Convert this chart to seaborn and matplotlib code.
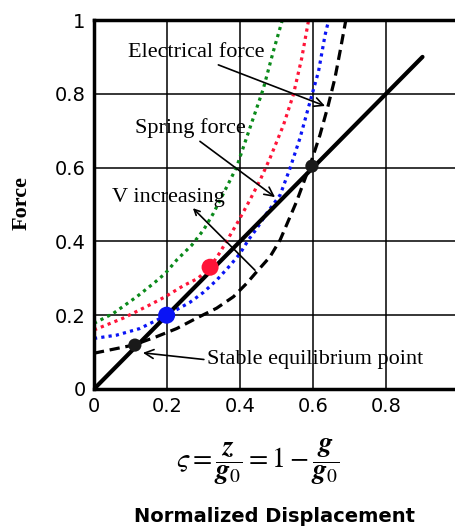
import numpy as np
import pandas as pd
import matplotlib
matplotlib.use("Agg")
import matplotlib.pyplot as plt
import seaborn as sns

# spring force (straight line through origin)
spring_x = [0.0, 0.9]
spring_y = [0.0, 0.9]

# electrical force curves (V increasing: black -> blue -> red -> green)
black_x = [0.0, 0.044, 0.108, 0.172, 0.227, 0.281, 0.336, 0.382, 0.418, 0.446, 0.482, 0.51,
           0.555, 0.592, 0.619, 0.642, 0.66, 0.674, 0.69]
black_y = [0.097, 0.106, 0.119, 0.142, 0.164, 0.192, 0.219, 0.25, 0.286, 0.318, 0.358, 0.404,
           0.508, 0.607, 0.688, 0.77, 0.842, 0.914, 1.0]

blue_x = [0.0, 0.062, 0.126, 0.199, 0.263, 0.3, 0.336, 0.373, 0.4, 0.423, 0.446, 0.473, 0.51,
          0.537, 0.564, 0.592, 0.615, 0.633, 0.643]
blue_y = [0.137, 0.146, 0.164, 0.2, 0.235, 0.262, 0.295, 0.335, 0.367, 0.404, 0.435, 0.476,
          0.526, 0.598, 0.679, 0.779, 0.86, 0.959, 1.0]

red_x = [0.0, 0.08, 0.153, 0.195, 0.245, 0.285, 0.318, 0.345, 0.373, 0.395, 0.427, 0.455,
         0.482, 0.519, 0.546, 0.569, 0.588]
red_y = [0.16, 0.192, 0.228, 0.25, 0.28, 0.3, 0.33, 0.37, 0.417, 0.454, 0.512, 0.566,
         0.625, 0.715, 0.797, 0.896, 1.0]

green_x = [0.0, 0.053, 0.117, 0.163, 0.195, 0.227, 0.268, 0.3, 0.327, 0.35, 0.373, 0.391,
           0.405, 0.427, 0.464, 0.491, 0.516]
green_y = [0.178, 0.205, 0.25, 0.286, 0.313, 0.35, 0.39, 0.431, 0.476, 0.521, 0.566, 0.602,
           0.643, 0.707, 0.814, 0.914, 1.0]

# equilibrium points
pts_x = [0.112, 0.597, 0.199, 0.318]
pts_y = [0.119, 0.604, 0.2, 0.33]
pts_kind = ["black_s", "black_u", "blue", "red"]

ticks = [0, 0.2, 0.4, 0.6, 0.8, 1]
tick_labels = ["0", "0.2", "0.4", "0.6", "0.8", "1"]

rows = []
for name, xs, ys in [("spring", spring_x, spring_y), ("black", black_x, black_y),
                     ("blue", blue_x, blue_y), ("red", red_x, red_y), ("green", green_x, green_y)]:
    for a, b in zip(xs, ys):
        rows.append({"curve": name, "x": a, "y": b})
df = pd.DataFrame(rows)
pts = pd.DataFrame({"x": pts_x, "y": pts_y, "kind": pts_kind})

sns.set_style("white")
plt.rcParams["font.family"] = ["DejaVu Sans"]
plt.rcParams["mathtext.fontset"] = "stix"
for k in ["text.color", "axes.labelcolor", "xtick.color", "ytick.color"]:
    plt.rcParams[k] = "black"

fig = plt.figure(figsize=(4.56, 5.31), dpi=100)
ax = fig.add_axes([94 / 456, 1 - 389 / 531, 365 / 456, 369 / 531])

blue = "#0a14f5"
red = "#ff1438"
palette = {"black": "black", "blue": blue, "red": red, "green": "#0a8a1a"}
dashes = {"black": (3.2, 1.8), "blue": (1, 1.3), "red": (1, 1.3), "green": (1, 1.3)}
sns.lineplot(data=df[df.curve != "spring"], x="x", y="y", hue="curve", style="curve",
             palette=palette, dashes=dashes, sort=False, estimator=None,
             legend=False, linewidth=2.3, ax=ax)
sns.lineplot(data=df[df.curve == "spring"], x="x", y="y", color="black",
             sort=False, estimator=None, legend=False, linewidth=3.0, ax=ax)

big = pts[pts.kind.isin(["blue", "red"])]
small = pts[pts.kind.isin(["black_s", "black_u"])]
sns.scatterplot(data=big, x="x", y="y", hue="kind", palette={"blue": blue, "red": red},
                s=150, edgecolor="none", legend=False, ax=ax, zorder=5)
sns.scatterplot(data=small, x="x", y="y", color="#1a1a1a", s=90, edgecolor="none",
                legend=False, ax=ax, zorder=5)

ax.set_xlim(0, 1)
ax.set_ylim(0, 1)
ax.set_xticks(ticks)
ax.set_xticklabels(tick_labels)
ax.set_yticks(ticks)
ax.set_yticklabels(tick_labels)
ax.tick_params(labelsize=14, length=0, pad=6)
ax.grid(True, color="black", linewidth=1.1)
for s in ["left", "bottom", "top", "right"]:
    ax.spines[s].set_linewidth(2.5)
    ax.spines[s].set_color("black")
ax.set_xlabel("")
ax.set_ylabel("")

serif = dict(family="Liberation Serif", fontsize=16)
arrow = dict(arrowstyle="->", color="black", lw=1.2, shrinkA=0, shrinkB=0)
ax.annotate("Electrical force", xy=(0.633, 0.767), xytext=(0.28, 0.913),
            ha="center", va="center", arrowprops=dict(arrow, relpos=(0.6, 0.0)), **serif)
ax.annotate("Spring force", xy=(0.496, 0.52), xytext=(0.263, 0.707),
            ha="center", va="center", arrowprops=dict(arrow, relpos=(0.55, 0.0)), **serif)
ax.annotate("", xy=(0.271, 0.49), xytext=(0.441, 0.322), arrowprops=arrow)
ax.text(0.205, 0.52, "V increasing", ha="center", va="center", **serif)
ax.annotate("Stable equilibrium point", xy=(0.134, 0.098), xytext=(0.31, 0.079),
            ha="left", va="center", arrowprops=dict(arrow, relpos=(0.0, 0.5)), **serif)

fig.text(22 / 456, 1 - 203 / 531, "Force", rotation=90, ha="center", va="center",
         family="Liberation Serif", fontweight="bold", fontsize=16)
fig.text(258 / 456, 1 - 462 / 531,
         r"$\varsigma=\dfrac{\boldsymbol{z}}{\boldsymbol{g}_0}=1-\dfrac{\boldsymbol{g}}{\boldsymbol{g}_0}$",
         ha="center", va="center", fontsize=20)
fig.text(275 / 456, 1 - 517 / 531, "Normalized Displacement", ha="center", va="center",
         fontsize=14, fontweight="bold")

fig.savefig("out.png", dpi=100)
